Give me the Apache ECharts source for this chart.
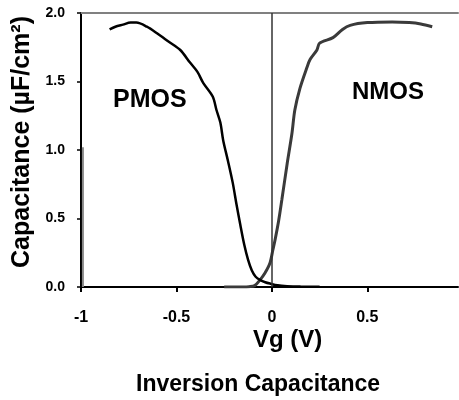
<!DOCTYPE html>
<html><head><meta charset="utf-8">
<script src="https://cdn.jsdelivr.net/npm/echarts@6/dist/echarts.min.js"></script>
<style>html,body{margin:0;padding:0;background:#fff}#c{width:459px;height:400px}</style>
</head><body><div id="c"></div>
<script>
const pmosX = [-0.85,-0.82,-0.78,-0.74,-0.71,-0.655,-0.60,-0.54,-0.48,-0.43,-0.39,-0.36,-0.31,-0.29,-0.27,-0.255,-0.23,-0.205,-0.185,-0.165,-0.145,-0.125,-0.105,-0.085,-0.06,-0.035,-0.01,0.03,0.08,0.15,0.25];
const pmosY = [1.88,1.90,1.915,1.93,1.93,1.90,1.85,1.79,1.73,1.64,1.57,1.49,1.39,1.29,1.20,1.07,0.92,0.76,0.60,0.45,0.31,0.20,0.12,0.075,0.05,0.035,0.025,0.012,0.006,0.003,0.002];
const nmosX = [-0.25,-0.2,-0.15,-0.12,-0.09,-0.063,-0.037,-0.01,0.005,0.016,0.035,0.052,0.08,0.105,0.12,0.147,0.183,0.2,0.236,0.25,0.32,0.37,0.41,0.5,0.63,0.72,0.78,0.84];
const nmosY = [0,0,0,0.002,0.01,0.05,0.10,0.175,0.27,0.34,0.48,0.635,0.90,1.12,1.29,1.45,1.60,1.66,1.73,1.78,1.82,1.88,1.91,1.93,1.935,1.93,1.92,1.90];
const edgeX = [-0.99,-0.99];
const edgeY = [0,1.02];
const xTicks = [-1,-0.5,0,0.5];
const yTicks = [0,0.5,1,1.5,2];

const zip = (a,b)=>a.map((v,i)=>[v,b[i]]);
const chart = echarts.init(document.getElementById('c'));
const F = '"Liberation Sans", Arial, sans-serif';
chart.setOption({
  animation:false,
  grid:{left:81,top:13,right:1,bottom:113,containLabel:false},
  title:{text:'Inversion Capacitance',left:131,top:368,textStyle:{fontFamily:F,fontWeight:'bold',fontSize:23,color:'#000'}},
  xAxis:[{
    type:'value',min:-1,max:0.975,interval:0.5,
    axisLine:{show:true,onZero:false,lineStyle:{color:'#000',width:2}},
    axisTick:{show:true,length:5,lineStyle:{color:'#000',width:2}},
    axisLabel:{margin:23,fontFamily:F,fontWeight:'bold',fontSize:16,color:'#000',showMaxLabel:false,
      formatter:v=>xTicks.includes(v)?String(v):''},
    splitLine:{show:false}
  },{
    type:'value',position:'top',min:-1,max:0.975,
    axisLine:{show:true,onZero:false,lineStyle:{color:'#808080',width:2}},
    axisTick:{show:false},axisLabel:{show:false},splitLine:{show:false}
  }],
  yAxis:{
    type:'value',min:0,max:2,interval:0.5,
    name:'Capacitance (µF/cm²)',nameLocation:'middle',nameGap:41,
    nameTextStyle:{fontFamily:F,fontWeight:'bold',fontSize:25,color:'#000',padding:[0,0,0,16]},
    axisLine:{show:true,onZero:false,lineStyle:{color:'#000',width:2}},
    axisTick:{show:true,length:4,lineStyle:{color:'#000',width:1.5}},
    axisLabel:{margin:16,fontFamily:F,fontWeight:'bold',fontSize:14,color:'#000',
      formatter:v=>yTicks.includes(v)?v.toFixed(1):''},
    splitLine:{show:false}
  },
  graphic:[
    {type:'text',left:113,top:88,style:{text:'PMOS',fontFamily:F,fontWeight:'bold',fontSize:25,fill:'#000'}},
    {type:'text',left:352,top:80,style:{text:'NMOS',fontFamily:F,fontWeight:'bold',fontSize:24,fill:'#000'}},
    {type:'text',left:253,top:328,style:{text:'Vg (V)',fontFamily:F,fontWeight:'bold',fontSize:24,fill:'#000'}}
  ],
  series:[
    {type:'line',data:zip(edgeX,edgeY),showSymbol:false,lineStyle:{color:'#888',width:2},
     markLine:{silent:true,symbol:'none',label:{show:false},lineStyle:{color:'#333',width:1.5,type:'solid'},data:[{xAxis:0}]}},
    {type:'line',data:zip(nmosX,nmosY),showSymbol:false,smooth:0.3,lineStyle:{color:'#3a3a3a',width:3}},
    {type:'line',data:zip(pmosX,pmosY),showSymbol:false,smooth:0.3,lineStyle:{color:'#000',width:2.5}}
  ]
});
</script></body></html>
